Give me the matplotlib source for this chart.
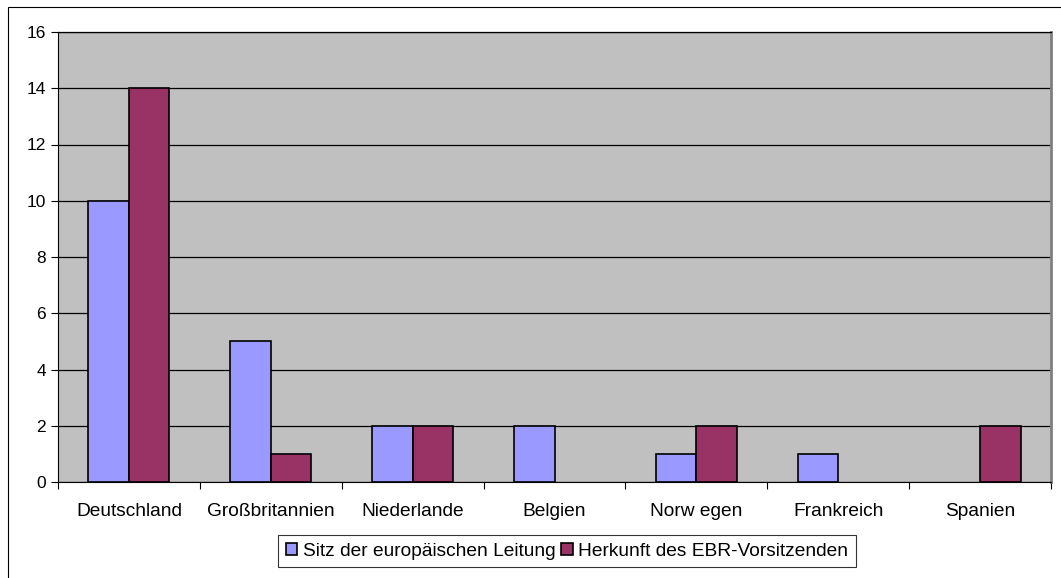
import matplotlib
matplotlib.use("Agg")
import numpy as np
import matplotlib.pyplot as plt
from matplotlib.patches import Rectangle

plt.rcParams.update({"font.family": ["Liberation Sans", "DejaVu Sans"], "font.size": 12.5})

countries = ["Deutschland", "Großbritannien", "Niederlande", "Belgien",
             "Norw egen", "Frankreich", "Spanien"]
sitz = [10, 5, 2, 2, 1, 1, 0]
herkunft = [14, 1, 2, 0, 2, 0, 2]
labels = ["Sitz der europäischen Leitung", "Herkunft des EBR-Vorsitzenden"]

BLUE = "#9999FF"; MAROON = "#993366"; GREY = "#C0C0C0"

fig = plt.figure(figsize=(10.61, 5.78), dpi=100)
fig.patches.append(Rectangle((8 / 1061, -0.01), 1.02, 1 - 7 / 578 + 0.01, transform=fig.transFigure,
                             fill=False, edgecolor="black", lw=0.8))
ax = fig.add_axes([58 / 1061, 1 - 482 / 578, (1051 - 58) / 1061, (482 - 32) / 578])
ax.set_facecolor(GREY)

x = np.arange(len(countries))
w = 0.286
for xs, vals, c, lab in ((x - w / 2, sitz, BLUE, labels[0]), (x + w / 2, herkunft, MAROON, labels[1])):
    bars = ax.bar(xs, vals, w, color=c, edgecolor="black", lw=1.2, label=lab, zorder=3)
    for b, v in zip(bars, vals):
        if v == 0:
            b.set_visible(False)

ax.set_xlim(-0.5, len(countries) - 0.5)
ax.set_ylim(0, 16)
ax.set_yticks(range(0, 17, 2))
ax.yaxis.grid(True, color="black", lw=0.9, zorder=1)
ax.set_axisbelow(True)

ax.set_xticks(np.arange(-0.5, len(countries), 1))
ax.set_xticklabels([])
ax.set_xticks(x, minor=True)
ax.set_xticklabels(countries, minor=True)
ax.tick_params(axis="x", which="minor", length=0, pad=15, labelsize=13.8)
ax.tick_params(axis="x", which="major", length=5, direction="out")
ax.tick_params(axis="y", length=5, direction="out", labelsize=12.5)

ax.spines["top"].set_color("black")
ax.spines["top"].set_linewidth(0.9)
ax.spines["right"].set_color("#808080")
ax.spines["right"].set_linewidth(2)
ax.spines["left"].set_color("black")
ax.spines["bottom"].set_color("black")

leg = fig.legend(loc="center", bbox_to_anchor=(567 / 1061, 1 - 551 / 578), ncol=2,
                 frameon=True, fancybox=False, edgecolor="black", handlelength=0.6,
                 handleheight=0.6, handletextpad=0.3, columnspacing=0.3, borderpad=0.4,
                 borderaxespad=0, fontsize=13.8)
leg.get_frame().set_linewidth(0.8)

fig.savefig("out.png", dpi=100, facecolor="white")
